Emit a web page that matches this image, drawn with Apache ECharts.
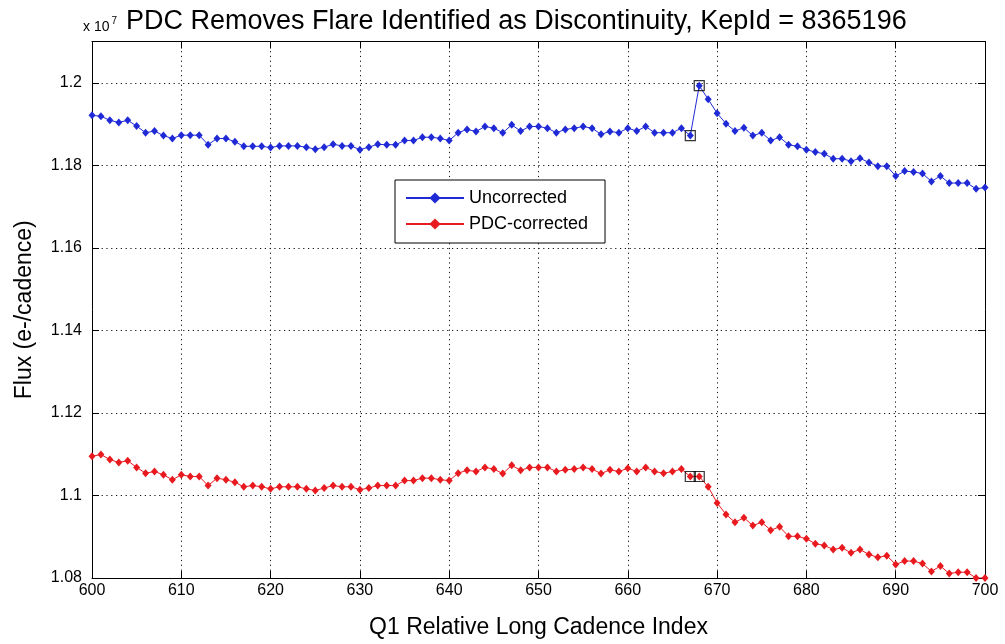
<!DOCTYPE html>
<html>
<head>
<meta charset="utf-8">
<script src="https://cdn.jsdelivr.net/npm/echarts@6/dist/echarts.min.js"></script>
<style>
  html, body { margin: 0; padding: 0; background: #ffffff; }
  #chart { width: 1005px; height: 644px; }
</style>
</head>
<body>
<div id="chart"></div>
<script>
// Long cadence index (Q1 relative)
const cadence = [
  600, 601, 602, 603, 604, 605, 606, 607, 608, 609,
  610, 611, 612, 613, 614, 615, 616, 617, 618, 619,
  620, 621, 622, 623, 624, 625, 626, 627, 628, 629,
  630, 631, 632, 633, 634, 635, 636, 637, 638, 639,
  640, 641, 642, 643, 644, 645, 646, 647, 648, 649,
  650, 651, 652, 653, 654, 655, 656, 657, 658, 659,
  660, 661, 662, 663, 664, 665, 666, 667, 668, 669,
  670, 671, 672, 673, 674, 675, 676, 677, 678, 679,
  680, 681, 682, 683, 684, 685, 686, 687, 688, 689,
  690, 691, 692, 693, 694, 695, 696, 697, 698, 699,
  700
];

// Raw flux, units of 1e7 e-/cadence
const uncorrected = [
  1.1921, 1.1919, 1.1909, 1.1904, 1.1909, 1.1895, 1.1879, 1.1883, 1.1872, 1.1865,
  1.1873, 1.1873, 1.1873, 1.1850, 1.1865, 1.1865, 1.1857, 1.1846, 1.1846, 1.1846,
  1.1843, 1.1847, 1.1847, 1.1847, 1.1844, 1.1839, 1.1844, 1.1851, 1.1847, 1.1847,
  1.1838, 1.1844, 1.1851, 1.1850, 1.1850, 1.1860, 1.1860, 1.1868, 1.1868, 1.1865,
  1.1860, 1.1879, 1.1887, 1.1882, 1.1894, 1.1890, 1.1879, 1.1898, 1.1883, 1.1894,
  1.1894, 1.1890, 1.1879, 1.1887, 1.1890, 1.1894, 1.1890, 1.1875, 1.1882, 1.1879,
  1.1890, 1.1883, 1.1894, 1.1879, 1.1879, 1.1879, 1.1890, 1.1872, 1.1993, 1.1960,
  1.1926, 1.1901, 1.1883, 1.1891, 1.1872, 1.1879, 1.1860, 1.1868, 1.1850, 1.1846,
  1.1838, 1.1832, 1.1828, 1.1816, 1.1816, 1.1810, 1.1817, 1.1807, 1.1798, 1.1798,
  1.1774, 1.1786, 1.1784, 1.1780, 1.1761, 1.1774, 1.1757, 1.1757, 1.1757, 1.1743,
  1.1746
];

// PDC-corrected flux, units of 1e7 e-/cadence
const pdcCorrected = [
  1.1095, 1.1099, 1.1087, 1.1080, 1.1084, 1.1068, 1.1054, 1.1058, 1.1050, 1.1038,
  1.1050, 1.1046, 1.1046, 1.1024, 1.1042, 1.1038, 1.1032, 1.1021, 1.1024, 1.1021,
  1.1016, 1.1021, 1.1021, 1.1021, 1.1016, 1.1012, 1.1018, 1.1024, 1.1021, 1.1021,
  1.1014, 1.1018, 1.1024, 1.1024, 1.1024, 1.1036, 1.1036, 1.1042, 1.1042, 1.1038,
  1.1036, 1.1054, 1.1061, 1.1058, 1.1068, 1.1064, 1.1053, 1.1073, 1.1061, 1.1068,
  1.1068, 1.1068, 1.1058, 1.1062, 1.1064, 1.1068, 1.1064, 1.1053, 1.1062, 1.1058,
  1.1066, 1.1058, 1.1068, 1.1058, 1.1054, 1.1058, 1.1064, 1.1046, 1.1046, 1.1021,
  1.0982, 1.0954, 1.0935, 1.0946, 1.0927, 1.0935, 1.0916, 1.0924, 1.0901, 1.0901,
  1.0895, 1.0883, 1.0879, 1.0869, 1.0873, 1.0861, 1.0869, 1.0857, 1.0850, 1.0854,
  1.0833, 1.0841, 1.0841, 1.0835, 1.0816, 1.0829, 1.0811, 1.0814, 1.0814, 1.0800,
  1.0800
];

// Cadences flagged as a discontinuity
const flagged = [667, 668];

const yTicks = [1.08, 1.1, 1.12, 1.14, 1.16, 1.18, 1.2];

const FONT = "'Liberation Sans', Arial, Helvetica, sans-serif";
const BLUE = '#1f2ad6';
const RED = '#e81a1f';

const pairs = (vals) => cadence.map((c, i) => [c, vals[i]]);
const flaggedPairs = (vals) => flagged.map(c => [c, vals[cadence.indexOf(c)]]);

const chart = echarts.init(document.getElementById('chart'), null, { renderer: 'canvas' });

const tickStyle = { show: true, inside: true, length: 7, lineStyle: { color: '#000', width: 1 } };
const gridDots = { show: true, lineStyle: { color: '#111', width: 1, type: [1.2, 3.6] } };

const option = {
  backgroundColor: '#ffffff',
  animation: false,
  title: {
    text: 'PDC Removes Flare Identified as Discontinuity, KepId = 8365196',
    left: 121, top: 3,
    textStyle: { fontFamily: FONT, fontWeight: 'normal', fontSize: 27, color: '#000' }
  },
  graphic: [{
    type: 'text', left: 83, top: 16,
    style: {
      text: '{a|x 10}{b|7}',
      rich: {
        a: { fontFamily: FONT, fontSize: 14, fill: '#000', verticalAlign: 'bottom' },
        b: { fontFamily: FONT, fontSize: 10, fill: '#000', verticalAlign: 'top', padding: [0, 0, 8, 2] }
      }
    }
  }],
  legend: {
    orient: 'vertical',
    left: 395, top: 180,
    padding: [9, 17, 10, 10],
    itemGap: 8,
    itemWidth: 58, itemHeight: 14,
    backgroundColor: '#fff',
    borderColor: '#000', borderWidth: 1, borderRadius: 0,
    data: ['Uncorrected', 'PDC-corrected'],
    textStyle: { fontFamily: FONT, fontSize: 18, color: '#000' }
  },
  grid: { left: 92, right: 20, top: 41.5, bottom: 65.5, show: false },
  xAxis: [{
    type: 'value', min: 600, max: 700, interval: 10,
    position: 'bottom',
    name: 'Q1 Relative Long Cadence Index', nameLocation: 'middle', nameGap: 38,
    nameTextStyle: { fontFamily: FONT, fontSize: 23, color: '#000' },
    axisLine: { show: true, lineStyle: { color: '#000', width: 1 } },
    axisTick: tickStyle,
    axisLabel: { fontFamily: FONT, fontSize: 16, color: '#000', margin: 5 },
    splitLine: gridDots
  }, {
    type: 'value', min: 600, max: 700, interval: 10,
    position: 'top',
    axisLine: { show: true, lineStyle: { color: '#000', width: 1 } },
    axisTick: tickStyle,
    axisLabel: { show: false },
    splitLine: { show: false }
  }],
  yAxis: [{
    type: 'value', min: 1.08, max: 1.21, interval: 0.02,
    position: 'left',
    name: 'Flux (e-/cadence)', nameLocation: 'middle', nameGap: 56,
    nameTextStyle: { fontFamily: FONT, fontSize: 23, color: '#000' },
    axisLine: { show: true, lineStyle: { color: '#000', width: 1 } },
    axisTick: tickStyle,
    axisLabel: {
      fontFamily: FONT, fontSize: 16, color: '#000', margin: 10,
      showMaxLabel: false,
      formatter: (v) => {
        const hit = yTicks.find(t => Math.abs(t - v) < 1e-9);
        return hit === undefined ? '' : String(hit);
      }
    },
    splitLine: gridDots
  }, {
    type: 'value', min: 1.08, max: 1.21, interval: 0.02,
    position: 'right',
    axisLine: { show: true, lineStyle: { color: '#000', width: 1 } },
    axisTick: tickStyle,
    axisLabel: { show: false },
    splitLine: { show: false }
  }],
  series: [{
    name: 'Uncorrected', type: 'line',
    data: pairs(uncorrected),
    lineStyle: { color: BLUE, width: 1 },
    itemStyle: { color: BLUE },
    symbol: 'diamond', symbolSize: [7, 8], showSymbol: true,
    z: 3
  }, {
    name: 'PDC-corrected', type: 'line',
    data: pairs(pdcCorrected),
    lineStyle: { color: RED, width: 1 },
    itemStyle: { color: RED },
    symbol: 'diamond', symbolSize: [7, 8], showSymbol: true,
    z: 3
  }, {
    name: 'flag-uncorrected', type: 'scatter',
    data: flaggedPairs(uncorrected),
    symbol: 'rect', symbolSize: 10,
    itemStyle: { color: 'rgba(0,0,0,0)', borderColor: '#000', borderWidth: 1.2 },
    z: 4
  }, {
    name: 'flag-pdc', type: 'scatter',
    data: flaggedPairs(pdcCorrected),
    symbol: 'rect', symbolSize: 10,
    itemStyle: { color: 'rgba(0,0,0,0)', borderColor: '#000', borderWidth: 1.2 },
    z: 4
  }]
};

chart.setOption(option);
</script>
</body>
</html>
